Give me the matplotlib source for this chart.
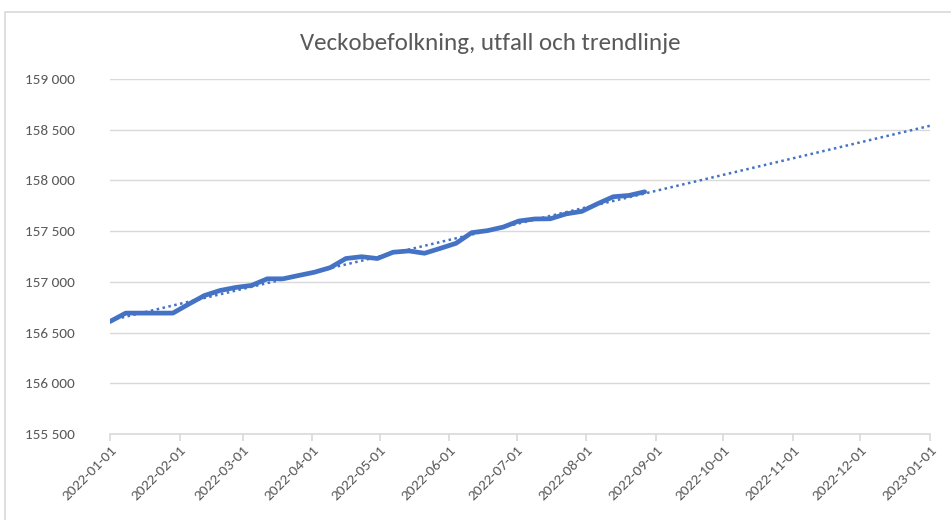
import matplotlib
matplotlib.use('Agg')
import matplotlib.pyplot as plt
import matplotlib.dates as mdates
from matplotlib.patches import Rectangle
from matplotlib.ticker import FuncFormatter
import numpy as np

# weekly population
start_date = np.datetime64('2022-01-01')
population = [
    156609, 156692, 156692, 156692, 156692, 156780, 156865, 156915,
    156945, 156965, 157030, 157030, 157063, 157095, 157140, 157230,
    157248, 157230, 157292, 157305, 157282, 157330, 157380, 157485,
    157505, 157540, 157600, 157620, 157622, 157670, 157695, 157770,
    157839, 157852, 157888,
]
trend_end = np.datetime64('2023-01-01')
month_ticks = [np.datetime64('2022-%02d-01' % m) for m in range(1, 13)] + [trend_end]

blue = '#4472C4'
grey_text = '#595959'
grid_col = '#D9D9D9'

plt.rcParams['font.family'] = ['Carlito', 'Lato', 'DejaVu Sans']

weeks = start_date + np.arange(len(population)) * np.timedelta64(7, 'D')
dates = weeks.astype('datetime64[D]').astype(object)

# linear trend fitted on the observed weeks, extended to year end
days = np.arange(len(population)) * 7.0
slope, intercept = np.polyfit(days, population, 1)
trend_days = np.array([0.0, (trend_end - start_date).astype(int)])
trend_dates = (start_date + trend_days.astype(int) * np.timedelta64(1, 'D')).astype(object)
trend_vals = intercept + slope * trend_days

fig = plt.figure(figsize=(9.51, 5.20), dpi=100)
ax = fig.add_axes([110 / 951, 1 - 434 / 520, 820 / 951, 355 / 520])

# outer chart border
fig.patches.append(Rectangle((5 / 951, -0.01), 1.0, 1 - 12 / 520 + 0.01,
                             transform=fig.transFigure, fill=False,
                             edgecolor='#D9D9D9', linewidth=1.2))

ax.plot(trend_dates, trend_vals, color=blue, linewidth=1.8,
        linestyle=(0, (1, 1.4)), zorder=3)
ax.plot(dates, population, color=blue, linewidth=3.4,
        solid_capstyle='round', solid_joinstyle='round', zorder=4)

ax.set_xlim(start_date.astype(object), trend_end.astype(object))
ax.set_ylim(155500, 159000)
ax.set_yticks(np.arange(155500, 159001, 500))
ax.yaxis.set_major_formatter(FuncFormatter(lambda v, p: f'{int(v):,}'.replace(',', ' ')))
ax.set_xticks([d.astype(object) for d in month_ticks])
ax.xaxis.set_major_formatter(mdates.DateFormatter('%Y-%m-%d'))

ax.grid(axis='y', color=grid_col, linewidth=1)
ax.set_axisbelow(True)
for side in ['top', 'right', 'left']:
    ax.spines[side].set_visible(False)
ax.spines['bottom'].set_color(grid_col)
ax.spines['bottom'].set_linewidth(1.2)

ax.tick_params(axis='y', length=0, pad=61, labelsize=11, labelcolor=grey_text)
ax.tick_params(axis='x', direction='out', length=5, color=grid_col, width=1.2,
               labelsize=11, labelcolor=grey_text, pad=2)
for lbl in ax.get_yticklabels():
    lbl.set_horizontalalignment('left')
for lbl in ax.get_xticklabels():
    lbl.set_rotation(45)
    lbl.set_horizontalalignment('right')
    lbl.set_rotation_mode('anchor')

fig.text(490 / 951, 1 - 43 / 520, 'Veckobefolkning, utfall och trendlinje',
         ha='center', va='center', fontsize=18, color=grey_text)

fig.savefig('out.png', dpi=100, facecolor='white')
